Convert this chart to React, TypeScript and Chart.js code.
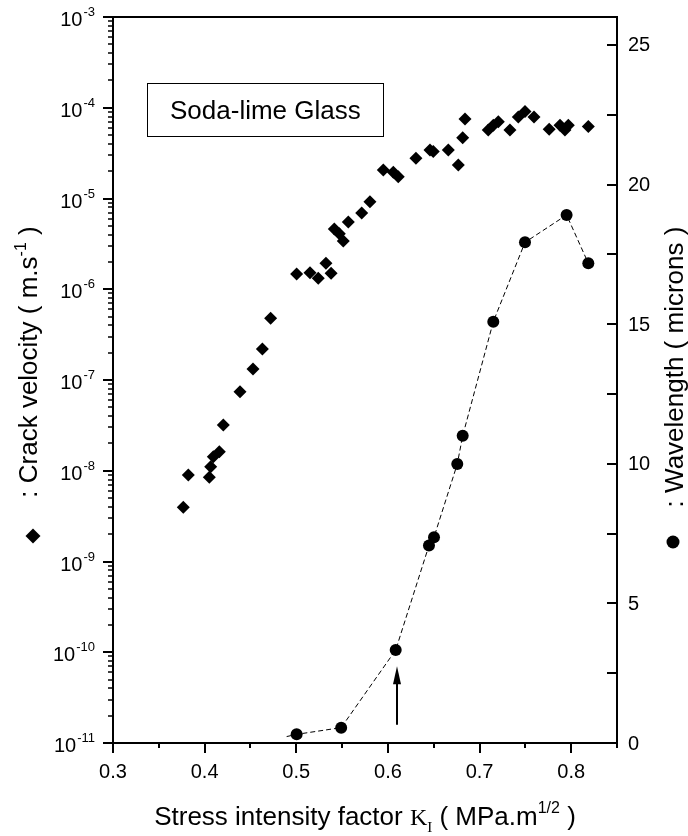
import React, { useEffect, useRef } from 'react';
import { Chart, registerables } from 'chart.js';

Chart.register(...registerables);

// Crack velocity (left, log axis) vs stress intensity factor
const velocityK = [
  0.3767, 0.3822, 0.4051, 0.4066, 0.4095, 0.416, 0.4204, 0.4386, 0.4528, 0.463,
  0.472, 0.5004, 0.515, 0.524, 0.5324, 0.538, 0.5415, 0.547, 0.5513, 0.5568,
  0.5714, 0.5804, 0.595, 0.6059, 0.6113, 0.6306, 0.6459, 0.6495, 0.6659, 0.6768,
  0.6816, 0.6841, 0.7095, 0.715, 0.7205, 0.7332, 0.7423, 0.7496, 0.7594, 0.776,
  0.7878, 0.7932, 0.7969, 0.8187,
];
const velocity = [
  3.95e-9, 9.0e-9, 8.5e-9, 1.11e-8, 1.43e-8, 1.62e-8, 3.2e-8, 7.4e-8, 1.32e-7, 2.2e-7,
  4.8e-7, 1.47e-6, 1.52e-6, 1.32e-6, 1.93e-6, 1.5e-6, 4.6e-6, 4.1e-6, 3.4e-6, 5.5e-6,
  6.9e-6, 9.2e-6, 2.06e-5, 1.95e-5, 1.74e-5, 2.77e-5, 3.42e-5, 3.3e-5, 3.42e-5, 2.34e-5,
  4.67e-5, 7.5e-5, 5.7e-5, 6.4e-5, 7.0e-5, 5.7e-5, 7.9e-5, 9.1e-5, 7.9e-5, 5.8e-5,
  6.4e-5, 5.7e-5, 6.4e-5, 6.2e-5,
];

// Wavelength (right axis, microns)
const wavelengthK = [0.5004, 0.549, 0.6085, 0.6448, 0.6503, 0.6757, 0.6816, 0.715, 0.7496, 0.795, 0.8187];
const wavelength = [0.31, 0.55, 3.33, 7.07, 7.37, 9.99, 11.0, 15.09, 17.93, 18.91, 17.18];

// Dashed guide line through the wavelength points (with short leading tail)
const trendK = [0.4895, ...wavelengthK];
const trendW = [0.23, ...wavelength];

// Axes
const xMin = 0.3;
const xMax = 0.85;
const xMajorTicks = [0.3, 0.4, 0.5, 0.6, 0.7, 0.8];
const xTickLabels = ['0.3', '0.4', '0.5', '0.6', '0.7', '0.8'];
const xMinorTicks = [0.35, 0.45, 0.55, 0.65, 0.75, 0.85];
const logExponents = [-11, -10, -9, -8, -7, -6, -5, -4, -3];
const rightMin = 0;
const rightMax = 26;
const rightTicks = [0, 5, 10, 15, 20, 25];
const rightTickLabels = ['0', '5', '10', '15', '20', '25'];
const rightMinorTicks = [2.5, 7.5, 12.5, 17.5, 22.5];

// Arrow annotation (K value, from/to wavelength)
const arrowK = 0.61;
const arrowFrom = 0.65;
const arrowTo = 2.75;

const SANS = '"Liberation Sans", Arial, sans-serif';
const SERIF = '"Liberation Serif", "Times New Roman", serif';

type Seg = { t: string; font: string; dy: number };

function drawSegs(ctx: CanvasRenderingContext2D, segs: Seg[], startX: number, baseY: number) {
  let x = startX;
  for (const s of segs) {
    ctx.font = s.font;
    ctx.fillText(s.t, x, baseY + s.dy);
    x += ctx.measureText(s.t).width;
  }
}
function segsWidth(ctx: CanvasRenderingContext2D, segs: Seg[]) {
  let w = 0;
  for (const s of segs) {
    ctx.font = s.font;
    w += ctx.measureText(s.t).width;
  }
  return w;
}

const decorPlugin = {
  id: 'decor',
  afterDraw(chart: any) {
    const { ctx, chartArea: ca, scales } = chart;
    const xs = scales.x;
    const ys = scales.y;
    const y2 = scales.y2;
    ctx.save();
    ctx.strokeStyle = '#000';
    ctx.fillStyle = '#000';
    ctx.lineCap = 'butt';

    // frame
    ctx.lineWidth = 2;
    ctx.strokeRect(ca.left, ca.top, ca.right - ca.left, ca.bottom - ca.top);

    // left log axis ticks
    for (const e of logExponents) {
      const y = Math.round(ys.getPixelForValue(Math.pow(10, e)));
      ctx.lineWidth = 2;
      ctx.beginPath();
      ctx.moveTo(ca.left - 10, y);
      ctx.lineTo(ca.left, y);
      ctx.stroke();
      if (e < -3) {
        ctx.lineWidth = 1.5;
        for (let m = 2; m <= 9; m++) {
          const ym = Math.round(ys.getPixelForValue(m * Math.pow(10, e)));
          ctx.beginPath();
          ctx.moveTo(ca.left - 5, ym);
          ctx.lineTo(ca.left, ym);
          ctx.stroke();
        }
      }
      // label 10^e
      const expStr = String(e);
      ctx.font = `13px ${SANS}`;
      const ew = ctx.measureText(expStr).width;
      ctx.font = `20px ${SANS}`;
      const bw = ctx.measureText('10').width;
      const right = ca.left - 18;
      ctx.textAlign = 'left';
      ctx.textBaseline = 'alphabetic';
      ctx.fillText('10', right - ew - bw - 1, y + 9);
      ctx.font = `13px ${SANS}`;
      ctx.fillText(expStr, right - ew, y - 1);
    }

    // right axis ticks (inward)
    ctx.lineWidth = 2;
    for (const v of [...rightTicks, ...rightMinorTicks]) {
      const y = Math.round(y2.getPixelForValue(v));
      ctx.beginPath();
      ctx.moveTo(ca.right - 10, y);
      ctx.lineTo(ca.right, y);
      ctx.stroke();
    }
    ctx.font = `20px ${SANS}`;
    ctx.textAlign = 'left';
    ctx.textBaseline = 'middle';
    rightTicks.forEach((v, i) => {
      ctx.fillText(rightTickLabels[i], ca.right + 11, y2.getPixelForValue(v) + 1);
    });

    // x axis ticks (outward)
    ctx.lineWidth = 2;
    for (const v of xMajorTicks) {
      const x = Math.round(xs.getPixelForValue(v));
      ctx.beginPath();
      ctx.moveTo(x, ca.bottom);
      ctx.lineTo(x, ca.bottom + 10);
      ctx.stroke();
    }
    for (const v of xMinorTicks) {
      const x = Math.round(xs.getPixelForValue(v));
      ctx.beginPath();
      ctx.moveTo(x, ca.bottom);
      ctx.lineTo(x, ca.bottom + 5);
      ctx.stroke();
    }
    ctx.font = `20px ${SANS}`;
    ctx.textAlign = 'center';
    ctx.textBaseline = 'alphabetic';
    xMajorTicks.forEach((v, i) => {
      ctx.fillText(xTickLabels[i], xs.getPixelForValue(v), ca.bottom + 35);
    });

    // x title
    ctx.textAlign = 'left';
    const xTitle: Seg[] = [
      { t: 'Stress intensity factor ', font: `26px ${SANS}`, dy: 0 },
      { t: 'K', font: `24px ${SANS.replace('"Liberation Sans"', '"Liberation Serif"')}`, dy: 0 },
      { t: 'I', font: `15px ${SERIF}`, dy: 7 },
      { t: ' ( MPa.m', font: `26px ${SANS}`, dy: 0 },
      { t: '1/2', font: `16px ${SANS}`, dy: -12 },
      { t: ' )', font: `26px ${SANS}`, dy: 0 },
    ];
    xTitle[1].font = `24px ${SERIF}`;
    const cx = (ca.left + ca.right) / 2;
    const xw = segsWidth(ctx, xTitle);
    drawSegs(ctx, xTitle, cx - xw / 2, 825);

    // left title (rotated)
    const lTitle: Seg[] = [
      { t: ': Crack velocity ( m.s', font: `26px ${SANS}`, dy: 0 },
      { t: '-1', font: `16px ${SANS}`, dy: -11 },
      { t: ' )', font: `26px ${SANS}`, dy: 0 },
    ];
    ctx.save();
    ctx.translate(37, 362);
    ctx.rotate(-Math.PI / 2);
    const lw = segsWidth(ctx, lTitle);
    drawSegs(ctx, lTitle, -lw / 2, 0);
    ctx.restore();

    // right title (rotated)
    const rTitle: Seg[] = [{ t: ': Wavelength ( microns )', font: `26px ${SANS}`, dy: 0 }];
    ctx.save();
    ctx.translate(683, 367);
    ctx.rotate(-Math.PI / 2);
    const rw = segsWidth(ctx, rTitle);
    drawSegs(ctx, rTitle, -rw / 2, 0);
    ctx.restore();

    // legend markers
    ctx.beginPath();
    ctx.moveTo(33 - 7.5, 536);
    ctx.lineTo(33, 536 - 7.5);
    ctx.lineTo(33 + 7.5, 536);
    ctx.lineTo(33, 536 + 7.5);
    ctx.closePath();
    ctx.fill();
    ctx.beginPath();
    ctx.arc(673, 542, 6.5, 0, Math.PI * 2);
    ctx.fill();

    // label box
    ctx.lineWidth = 1;
    ctx.strokeRect(147.5, 83.5, 236, 53);
    ctx.font = `26px ${SANS}`;
    ctx.textAlign = 'left';
    ctx.textBaseline = 'alphabetic';
    ctx.fillText('Soda-lime Glass', 170, 119);

    // arrow
    const ax = Math.round(xs.getPixelForValue(arrowK));
    const yb = y2.getPixelForValue(arrowFrom);
    const yt = y2.getPixelForValue(arrowTo);
    ctx.lineWidth = 2;
    ctx.beginPath();
    ctx.moveTo(ax, yb);
    ctx.lineTo(ax, yt + 12);
    ctx.stroke();
    ctx.beginPath();
    ctx.moveTo(ax, yt);
    ctx.lineTo(ax - 4, yt + 18);
    ctx.lineTo(ax + 4, yt + 18);
    ctx.closePath();
    ctx.fill();

    ctx.restore();
  },
};

export default function App() {
  const ref = useRef<HTMLCanvasElement | null>(null);
  useEffect(() => {
    if (!ref.current) return;
    const chart = new Chart(ref.current, {
      type: 'scatter',
      data: {
        datasets: [
          {
            label: 'Crack velocity',
            data: velocityK.map((k, i) => ({ x: k, y: velocity[i] })),
            yAxisID: 'y',
            pointStyle: 'rectRot',
            pointRadius: 6.5,
            pointBackgroundColor: '#000',
            pointBorderColor: '#000',
            pointBorderWidth: 0,
          },
          {
            label: 'trend',
            data: trendK.map((k, i) => ({ x: k, y: trendW[i] })),
            yAxisID: 'y2',
            showLine: true,
            borderColor: '#000',
            borderWidth: 1,
            borderDash: [5, 3],
            pointRadius: 0,
            tension: 0,
            fill: false,
          },
          {
            label: 'Wavelength',
            data: wavelengthK.map((k, i) => ({ x: k, y: wavelength[i] })),
            yAxisID: 'y2',
            pointStyle: 'circle',
            pointRadius: 6,
            pointBackgroundColor: '#000',
            pointBorderColor: '#000',
            pointBorderWidth: 0,
          },
        ],
      },
      options: {
        responsive: false,
        animation: false,
        devicePixelRatio: 1,
        layout: { padding: { left: 113, right: 71, top: 17, bottom: 93 } },
        plugins: { legend: { display: false }, tooltip: { enabled: false } },
        scales: {
          x: { type: 'linear', min: xMin, max: xMax, display: false },
          y: { type: 'logarithmic', position: 'left', min: 1e-11, max: 1e-3, display: false },
          y2: { type: 'linear', position: 'right', min: rightMin, max: rightMax, display: false },
        },
      },
      plugins: [decorPlugin],
    });
    return () => chart.destroy();
  }, []);
  return (
    <div style={{ position: 'absolute', left: 0, top: 0, width: 688, height: 836, background: '#fff' }}>
      <canvas ref={ref} width={688} height={836} />
    </div>
  );
}
